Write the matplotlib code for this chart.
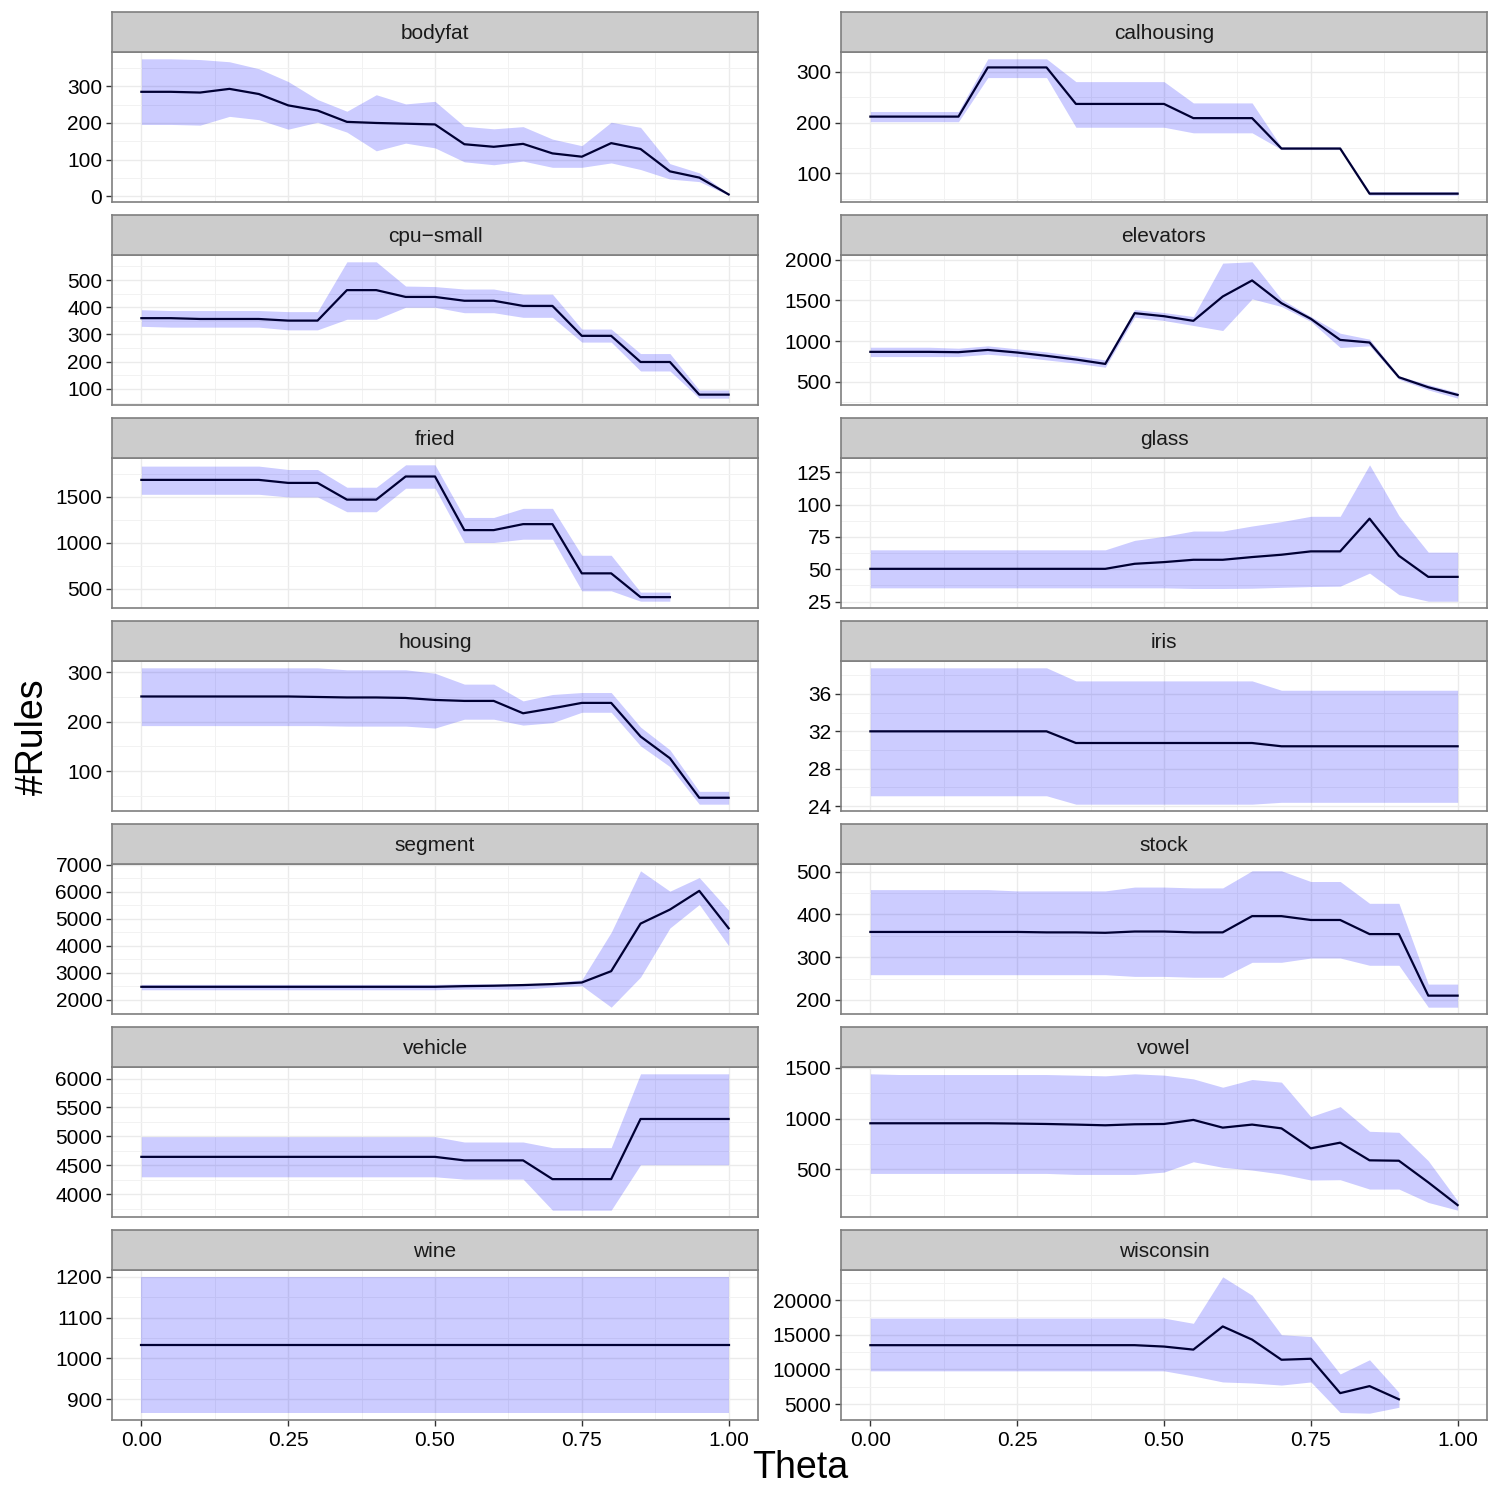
import matplotlib
matplotlib.use('Agg')  # no display
import matplotlib.pyplot as plt

plt.rcParams['font.family'] = ['Liberation Sans', 'DejaVu Sans']

# theta grid (x axis)
theta = [0.00, 0.05, 0.10, 0.15, 0.20, 0.25, 0.30, 0.35, 0.40, 0.45, 0.50,
         0.55, 0.60, 0.65, 0.70, 0.75, 0.80, 0.85, 0.90, 0.95, 1.00]

# ---- data: mean, lower and upper band ----
bodyfat_mid = [285, 285, 283, 293, 279, 248, 234, 203, 200, 198, 196, 142, 135, 143, 117, 108, 145, 129, 68, 51, 5]
bodyfat_lo = [196, 196, 194, 218, 209, 183, 202, 175, 124, 145, 132, 94, 86, 96, 79, 79, 91, 73, 47, 40, 3]
bodyfat_hi = [375, 375, 373, 367, 348, 313, 264, 232, 277, 252, 259, 191, 184, 190, 156, 138, 202, 188, 89, 64, 7]

calhousing_mid = [212, 212, 212, 212, 309, 309, 309, 237, 237, 237, 237, 209, 209, 209, 149, 149, 149, 60, 60, 60, 60]
calhousing_lo = [202, 202, 202, 202, 289, 289, 289, 191, 191, 191, 191, 180, 180, 180, 147, 147, 147, 57, 57, 57, 57]
calhousing_hi = [222, 222, 222, 222, 326, 326, 326, 281, 281, 281, 281, 239, 239, 239, 152, 152, 152, 64, 64, 64, 64]

cpu_mid = [360, 360, 357, 357, 357, 351, 351, 463, 463, 438, 438, 424, 424, 405, 405, 295, 295, 199, 199, 79, 79]
cpu_lo = [330, 327, 327, 327, 327, 317, 317, 356, 356, 400, 400, 380, 380, 363, 363, 272, 272, 166, 166, 66, 66]
cpu_hi = [391, 388, 388, 388, 388, 384, 384, 567, 567, 478, 476, 467, 467, 448, 448, 320, 320, 230, 230, 96, 96]

elevators_mid = [869, 869, 869, 865, 893, 861, 820, 775, 721, 1344, 1307, 1250, 1549, 1746, 1467, 1275, 1016, 984, 557, 434, 340]
elevators_lo = [811, 811, 811, 811, 840, 811, 770, 730, 680, 1295, 1254, 1193, 1131, 1520, 1426, 1242, 922, 943, 533, 402, 300]
elevators_hi = [926, 926, 926, 914, 943, 906, 869, 820, 770, 1389, 1352, 1303, 1959, 1975, 1516, 1303, 1098, 1025, 574, 467, 369]

fried_mid = [1686, 1686, 1686, 1686, 1686, 1653, 1653, 1471, 1471, 1723, 1723, 1139, 1139, 1204, 1204, 668, 668, 409, 409]
fried_lo = [1529, 1529, 1529, 1529, 1529, 1500, 1500, 1339, 1339, 1595, 1595, 1004, 1004, 1040, 1040, 478, 478, 365, 365]
fried_hi = [1836, 1836, 1836, 1836, 1836, 1799, 1799, 1606, 1606, 1850, 1850, 1277, 1277, 1376, 1376, 865, 865, 464, 464]

glass_mid = [50.3, 50.3, 50.3, 50.3, 50.3, 50.3, 50.3, 50.3, 50.3, 54.2, 55.5, 57.3, 57.3, 59.4, 61.2, 63.8, 63.8, 89.1, 60.4, 44.1, 44.1]
glass_lo = [35.6, 35.6, 35.6, 35.6, 35.6, 35.6, 35.6, 35.6, 35.6, 35.6, 35.6, 35.1, 35.1, 35.3, 36.0, 36.6, 36.9, 47.0, 30.4, 25.3, 25.3]
glass_hi = [65.0, 65.0, 65.0, 65.0, 65.0, 65.0, 65.0, 65.0, 65.0, 72.3, 75.4, 79.5, 79.5, 83.4, 86.8, 90.9, 90.9, 130.7, 91.4, 63.2, 63.2]

housing_mid = [251, 251, 251, 251, 251, 251, 250, 249, 249, 248, 244, 242, 242, 217, 227, 238, 238, 170, 126, 46, 46]
housing_lo = [192, 192, 192, 192, 192, 192, 192, 191, 191, 191, 187, 205, 205, 193, 198, 219, 219, 151, 109, 33, 33]
housing_hi = [309, 309, 309, 309, 309, 309, 309, 305, 305, 305, 298, 276, 276, 242, 255, 259, 259, 189, 143, 59, 59]

iris_mid = [32.0, 32.0, 32.0, 32.0, 32.0, 32.0, 32.0, 30.75, 30.75, 30.75, 30.75, 30.75, 30.75, 30.75, 30.4, 30.4, 30.4, 30.4, 30.4, 30.4, 30.4]
iris_lo = [25.1, 25.1, 25.1, 25.1, 25.1, 25.1, 25.1, 24.2, 24.2, 24.2, 24.2, 24.2, 24.2, 24.2, 24.4, 24.4, 24.4, 24.4, 24.4, 24.4, 24.4]
iris_hi = [38.8, 38.8, 38.8, 38.8, 38.8, 38.8, 38.8, 37.4, 37.4, 37.4, 37.4, 37.4, 37.4, 37.4, 36.4, 36.4, 36.4, 36.4, 36.4, 36.4, 36.4]

segment_mid = [2480, 2480, 2480, 2480, 2480, 2480, 2480, 2480, 2480, 2480, 2480, 2505, 2520, 2545, 2580, 2640, 3060, 4823, 5343, 6037, 4650]
segment_lo = [2370, 2370, 2370, 2370, 2370, 2370, 2370, 2370, 2370, 2370, 2370, 2395, 2395, 2395, 2470, 2520, 1725, 2840, 4660, 5530, 4005]
segment_hi = [2570, 2570, 2570, 2570, 2570, 2570, 2570, 2570, 2570, 2570, 2570, 2590, 2590, 2590, 2640, 2740, 4500, 6780, 6025, 6530, 5320]

stock_mid = [359, 359, 359, 359, 359, 359, 358, 358, 357, 360, 360, 358, 358, 396, 396, 387, 387, 354, 354, 210, 210]
stock_lo = [259, 259, 259, 259, 259, 259, 259, 259, 259, 255, 255, 253, 253, 288, 288, 298, 298, 281, 281, 183, 183]
stock_hi = [458, 458, 458, 458, 458, 455, 455, 455, 455, 464, 464, 462, 462, 502, 502, 477, 477, 426, 426, 237, 237]

vehicle_mid = [4645, 4645, 4645, 4645, 4645, 4645, 4645, 4645, 4645, 4645, 4645, 4584, 4584, 4584, 4260, 4260, 4260, 5300, 5300, 5300, 5300]
vehicle_lo = [4300, 4300, 4300, 4300, 4300, 4300, 4300, 4300, 4300, 4300, 4300, 4260, 4260, 4260, 3723, 3723, 3723, 4509, 4509, 4509, 4509]
vehicle_hi = [4994, 4994, 4994, 4994, 4994, 4994, 4994, 4994, 4994, 4994, 4994, 4902, 4902, 4902, 4804, 4804, 4804, 6081, 6081, 6081, 6081]

vowel_mid = [954, 954, 954, 954, 954, 951, 947, 941, 934, 944, 947, 987, 911, 941, 904, 707, 763, 589, 585, 372, 148]
vowel_lo = [460, 460, 460, 460, 460, 460, 460, 450, 450, 450, 473, 575, 520, 493, 454, 395, 398, 306, 306, 174, 98]
vowel_hi = [1441, 1434, 1434, 1434, 1434, 1434, 1434, 1428, 1421, 1441, 1428, 1391, 1309, 1385, 1359, 1020, 1118, 875, 865, 585, 191]

wine_mid = [1032, 1032, 1032, 1032, 1032, 1032, 1032, 1032, 1032, 1032, 1032, 1032, 1032, 1032, 1032, 1032, 1032, 1032, 1032, 1032, 1032]
wine_lo = [866, 866, 866, 866, 866, 866, 866, 866, 866, 866, 866, 866, 866, 866, 866, 866, 866, 866, 866, 866, 866]
wine_hi = [1200, 1200, 1200, 1200, 1200, 1200, 1200, 1200, 1200, 1200, 1200, 1200, 1200, 1200, 1200, 1200, 1200, 1200, 1200, 1200, 1200]

wisconsin_mid = [13500, 13500, 13500, 13500, 13500, 13500, 13500, 13500, 13500, 13500, 13300, 12860, 16200, 14300, 11400, 11540, 6590, 7600, 5700]
wisconsin_lo = [9800, 9800, 9800, 9800, 9800, 9800, 9800, 9800, 9800, 9800, 9800, 9060, 8200, 8050, 7750, 8200, 3800, 3700, 4550]
wisconsin_hi = [17400, 17400, 17400, 17400, 17400, 17400, 17400, 17400, 17400, 17400, 17400, 16650, 23350, 20700, 15000, 14750, 9350, 11400, 6700]

# y tick labels per facet
panels = [
    ('bodyfat', bodyfat_mid, bodyfat_lo, bodyfat_hi, [0, 100, 200, 300]),
    ('calhousing', calhousing_mid, calhousing_lo, calhousing_hi, [100, 200, 300]),
    ('cpu\u2212small', cpu_mid, cpu_lo, cpu_hi, [100, 200, 300, 400, 500]),
    ('elevators', elevators_mid, elevators_lo, elevators_hi, [500, 1000, 1500, 2000]),
    ('fried', fried_mid, fried_lo, fried_hi, [500, 1000, 1500]),
    ('glass', glass_mid, glass_lo, glass_hi, [25, 50, 75, 100, 125]),
    ('housing', housing_mid, housing_lo, housing_hi, [100, 200, 300]),
    ('iris', iris_mid, iris_lo, iris_hi, [24, 28, 32, 36]),
    ('segment', segment_mid, segment_lo, segment_hi, [2000, 3000, 4000, 5000, 6000, 7000]),
    ('stock', stock_mid, stock_lo, stock_hi, [200, 300, 400, 500]),
    ('vehicle', vehicle_mid, vehicle_lo, vehicle_hi, [4000, 4500, 5000, 5500, 6000]),
    ('vowel', vowel_mid, vowel_lo, vowel_hi, [500, 1000, 1500]),
    ('wine', wine_mid, wine_lo, wine_hi, [900, 1000, 1100, 1200]),
    ('wisconsin', wisconsin_mid, wisconsin_lo, wisconsin_hi, [5000, 10000, 15000, 20000]),
]
x_ticks = [0.00, 0.25, 0.50, 0.75, 1.00]
x_labels = ['0.00', '0.25', '0.50', '0.75', '1.00']

W = H = 1500
fig = plt.figure(figsize=(15, 15), dpi=100, facecolor='white')


def box(x0, y0, x1, y1):
    # pixel box (top-left origin) -> figure fraction rect
    return [x0 / W, 1 - y1 / H, (x1 - x0) / W, (y1 - y0) / H]


cols = [(112, 758), (841, 1487)]
border = '#7F7F7F'
grid_c = '#EBEBEB'

for i, (name, mid, lo, hi, yt) in enumerate(panels):
    row, col = divmod(i, 2)
    x0, x1 = cols[col]
    top = 52 + row * 203
    ax = fig.add_axes(box(x0, top, x1, top + 150))
    x = theta[:len(mid)]
    ax.fill_between(x, lo, hi, color='blue', alpha=0.2, linewidth=0, zorder=2)
    ax.plot(x, mid, color='#000033', lw=1.6, zorder=3)

    ymin, ymax = min(lo), max(hi)
    pad = 0.05 * (ymax - ymin)
    ax.set_yticks(yt)
    step = yt[1] - yt[0]
    ax.set_yticks([yt[0] - step / 2] + [t + step / 2 for t in yt], minor=True)
    ax.set_xticks(x_ticks)
    ax.set_xticks([-0.125, 0.125, 0.375, 0.625, 0.875, 1.125], minor=True)
    ax.set_ylim(ymin - pad, ymax + pad)
    ax.set_xlim(-0.05, 1.05)

    ax.grid(which='major', color=grid_c, lw=1.0, zorder=0)
    ax.grid(which='minor', color='#F2F2F2', lw=0.7, zorder=0)
    ax.set_axisbelow(True)
    for s in ax.spines.values():
        s.set_color(border)
        s.set_linewidth(1.2)

    ax.tick_params(axis='y', which='major', length=4, width=1, color='#333333',
                   labelsize=15, pad=3, labelcolor='black')
    ax.tick_params(which='minor', length=0)
    if row == 6:
        ax.set_xticklabels(x_labels)
        ax.tick_params(axis='x', which='major', length=4, width=1, color='#333333',
                       labelsize=15, pad=4, labelcolor='black')
    else:
        ax.tick_params(axis='x', which='major', length=0, labelbottom=False)

    # facet strip
    sax = fig.add_axes(box(x0, top - 40, x1, top))
    sax.set_facecolor('#CCCCCC')
    sax.set_xticks([])
    sax.set_yticks([])
    for s in sax.spines.values():
        s.set_color(border)
        s.set_linewidth(1.2)
    sax.text(0.5, 0.47, name, ha='center', va='center', fontsize=15,
             color='#1A1A1A', transform=sax.transAxes)

fig.text(33 / W, 1 - 737 / H, '#Rules', rotation=90, fontsize=27,
         ha='center', va='center')
fig.text(800 / W, 1 - 1468 / H, 'Theta', fontsize=27, ha='center', va='center')

fig.savefig('out.png', dpi=100, facecolor='white')
plt.close(fig)
